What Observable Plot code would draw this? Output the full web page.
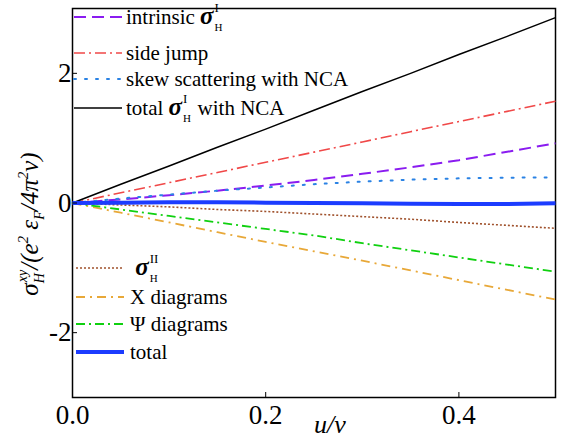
<!DOCTYPE html>
<html><head><meta charset="utf-8">
<script src="https://cdn.jsdelivr.net/npm/d3@7"></script>
<script src="https://cdn.jsdelivr.net/npm/@observablehq/plot@0.6"></script>
<style>
html,body{margin:0;padding:0;background:#fff;}
#chart{position:relative;width:564px;height:441px;}
</style></head>
<body><div id="chart"></div>
<script>
const u = [0, 0.05, 0.1, 0.15, 0.2, 0.25, 0.3, 0.35, 0.4, 0.45, 0.5];
const intrinsic = [0, 0.055, 0.12, 0.19, 0.27, 0.355, 0.45, 0.55, 0.66, 0.79, 0.92];
const sideJump = [0, 0.157, 0.314, 0.471, 0.628, 0.785, 0.942, 1.10, 1.256, 1.413, 1.57];
const skew = [0, 0.07, 0.13, 0.19, 0.24, 0.29, 0.33, 0.36, 0.38, 0.39, 0.395];
const totalI = [0, 0.29, 0.57, 0.86, 1.14, 1.43, 1.72, 2.0, 2.29, 2.57, 2.86];
const sigmaII = [0, -0.03, -0.06, -0.10, -0.13, -0.17, -0.21, -0.25, -0.30, -0.345, -0.39];
const xDiag = [0, -0.15, -0.30, -0.45, -0.60, -0.745, -0.89, -1.04, -1.19, -1.34, -1.49];
const psiDiag = [0, -0.10, -0.20, -0.30, -0.40, -0.50, -0.62, -0.73, -0.84, -0.95, -1.06];
const total = [0, 0.005, 0.01, 0.01, 0.005, 0, -0.005, -0.01, -0.015, -0.015, -0.005];
const xTicks = [0, 0.2, 0.4];
const yTicks = [-2, 0, 2];

const series = [
  {key:"intrinsic", v:intrinsic, color:"#8a1cf0", w:2, dash:"12,6"},
  {key:"side", v:sideJump, color:"#f04848", w:1.6, dash:"11,4,2,4"},
  {key:"skew", v:skew, color:"#2a82e4", w:2, dash:"2,9", cap:"round"},
  {key:"totalI", v:totalI, color:"#000000", w:1.5, dash:null},
  {key:"sII", v:sigmaII, color:"#a0522d", w:1.6, dash:"2,2"},
  {key:"X", v:xDiag, color:"#e8a838", w:1.8, dash:"9,5,2,5"},
  {key:"Psi", v:psiDiag, color:"#10d010", w:1.8, dash:"9,4,2,4"},
  {key:"total", v:total, color:"#1c3cff", w:4, dash:null}
];

const serif = "Liberation Serif";
const marks = [Plot.frame({stroke:"#000", strokeWidth:1.5})];
for (const s of series) {
  const data = u.map((x,i)=>({x, y:s.v[i]}));
  marks.push(Plot.line(data, {x:"x", y:"y", stroke:s.color, strokeWidth:s.w,
    strokeDasharray:s.dash || undefined, strokeLinecap: s.cap || "butt"}));
}
marks.push(Plot.axisX({ticks:xTicks, tickFormat:d3.format(".1f"), tickSize:-5, tickPadding:12, label:null, fontSize:27}));
marks.push(Plot.axisY({ticks:yTicks, tickFormat:d=>String(d), tickSize:-5, tickPadding:6, label:null, fontSize:27}));

const plot = Plot.plot({
  width:564, height:441,
  marginLeft:72, marginRight:9, marginTop:8, marginBottom:44,
  x:{domain:[0,0.5]},
  y:{domain:[-3,3]},
  style:{fontFamily:serif, color:"#000", background:"#fff"},
  marks
});
document.getElementById("chart").appendChild(plot);

const svg = d3.select(plot);

// axis labels
svg.append("text").attr("x",330).attr("y",433).attr("text-anchor","middle")
  .attr("font-size",26).attr("font-style","italic").text("u/v");

const yl = svg.append("text").attr("transform","translate(38,224) rotate(-90)")
  .attr("text-anchor","middle").attr("font-size",25).attr("font-style","italic");
yl.append("tspan").text("σ");
yl.append("tspan").attr("font-size",14).attr("dy",6).text("H");
yl.append("tspan").attr("font-size",14).attr("dx",-9).attr("dy",-17).text("xy");
yl.append("tspan").attr("dy",11).text("/(e");
yl.append("tspan").attr("font-size",15).attr("dy",-10).text("2");
yl.append("tspan").attr("dy",10).text(" ε");
yl.append("tspan").attr("font-size",14).attr("dy",6).text("F");
yl.append("tspan").attr("dy",-6).text("/4π");
yl.append("tspan").attr("font-size",15).attr("dy",-10).text("2");
yl.append("tspan").attr("dy",10).text("ν)");

// legend
const legendItems = [
  {s:0, y:17, label:[["intrinsic "],["σ","sig"],["H","sub"],["I","sup"]]},
  {s:1, y:53, label:[["side jump"]]},
  {s:2, y:79, label:[["skew scattering with NCA"]]},
  {s:3, y:108, label:[["total "],["σ","sig"],["H","sub"],["I","sup"],[" with NCA","after"]]},
  {s:4, y:268, label:[[" "],["σ","sig"],["H","sub"],["II","sup"]]},
  {s:5, y:297, label:[["X diagrams"]]},
  {s:6, y:324, label:[["Ψ diagrams"]]},
  {s:7, y:352, label:[["total"]]}
];
const lg = svg.append("g").attr("text-anchor","start");
for (const it of legendItems) {
  const s = series[it.s];
  const isBottom = it.s >= 4;
  lg.append("line").attr("x1",isBottom?76:74).attr("x2",isBottom?124:122)
    .attr("y1",it.y).attr("y2",it.y).attr("stroke",s.color).attr("stroke-width",s.w)
    .attr("stroke-dasharray",s.dash).attr("stroke-linecap",s.cap||"butt");
  const t = lg.append("text").attr("x",isBottom?130:126).attr("y",it.y+7)
    .attr("text-anchor","start").attr("font-size",21);
  let state = 0;
  for (const [txt,kind] of it.label) {
    const sp = t.append("tspan").text(txt);
    if (kind==="sig") { sp.attr("font-size",25).attr("font-style","italic").attr("font-weight","bold"); }
    else if (kind==="sub") { sp.attr("font-size",11).attr("dy",7).attr("dx",1); }
    else if (kind==="sup") { sp.attr("font-size",13).attr("dy",-19).attr("dx",-8); state = 12; }
    else if (kind==="after") { sp.attr("dy",state).attr("dx",5); }
  }
}
svg.selectAll("text").attr("font-family",serif);
</script></body></html>
